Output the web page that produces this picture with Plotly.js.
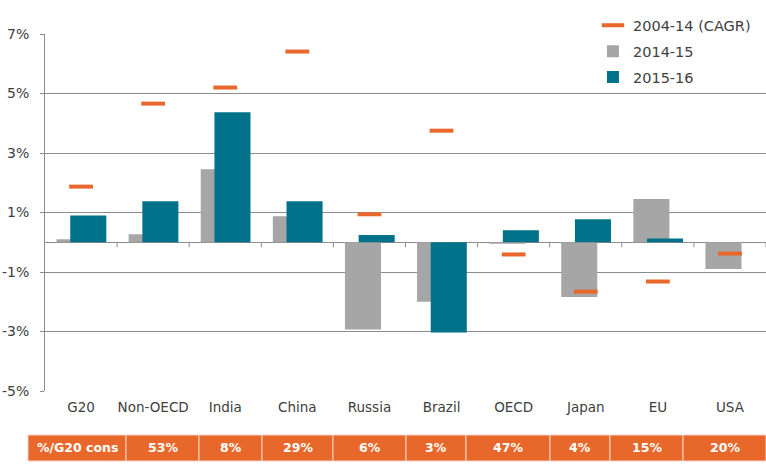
<!DOCTYPE html>
<html>
<head>
<meta charset="utf-8">
<script src="https://cdn.plot.ly/plotly-3.0.1.min.js"></script>
<style>html,body{margin:0;padding:0;background:#fff}#chart{width:766px;height:471px}</style>
</head>
<body>
<div id="chart"></div>
<script>
const categories = ['G20','Non-OECD','India','China','Russia','Brazil','OECD','Japan','EU','USA'];
const cagr0414 = [1.87, 4.66, 5.2, 6.41, 0.94, 3.75, -0.41, -1.66, -1.32, -0.38];
const growth1415 = [0.1, 0.27, 2.45, 0.87, -2.93, -2.0, -0.05, -1.84, 1.45, -0.9];
const growth1516 = [0.9, 1.38, 4.37, 1.38, 0.24, -3.03, 0.4, 0.77, 0.13, 0];
const yTickVals = [-5, -3, -1, 1, 3, 5, 7];
const yTickText = ['-5%', '-3%', '-1%', '1%', '3%', '5%', '7%'];
const shareLabels = ['%/G20 cons','53%','8%','29%','6%','3%','47%','4%','15%','20%'];

// layout helpers (pixel geometry of the table row under the chart)
const W = 766, H = 471, ML = 45, MR = 0, MT = 34, MB = 80;
const PW = W - ML - MR, PH = H - MT - MB;
const cellEdgesPx = [28,126,199,262,333,406,466,550,610,683,766];
const rowTopPx = 435, rowBotPx = 461;
const px2x = p => (p - ML) / PW;
const px2y = p => (H - MB - p) / PH;

const ORANGE = '#E8682B', GRAY = '#A6A6A6', TEAL = '#00728A', TXT = '#404040', GRID = '#8C8C8C';

const traces = [
  {type:'scatter', mode:'markers', name:'2004-14 (CAGR)', x:categories, y:cagr0414,
   legendgroup:'a',
   marker:{symbol:'line-ew', size:17, color:ORANGE, line:{color:ORANGE, width:4}}, hoverinfo:'skip'},
  {type:'bar', name:'2014-15', x:categories, y:growth1415, legendgroup:'b',
   marker:{color:GRAY}, width:0.5, offset:-0.34},
  {type:'bar', name:'2015-16', x:categories, y:growth1516, legendgroup:'c',
   marker:{color:TEAL}, width:0.5, offset:-0.15}
];

const shapes = [];
const annotations = [];
// tick marks on the zero line at category boundaries
for (let i = 0; i < categories.length; i++) {
  shapes.push({type:'line', xref:'x', yref:'y', x0:i+0.5, x1:i+0.5, y0:0, y1:-0.17,
    line:{color:GRID, width:1}});
}
// table row
for (let i = 0; i < shareLabels.length; i++) {
  const x0 = px2x(cellEdgesPx[i]), x1 = px2x(cellEdgesPx[i+1]);
  shapes.push({type:'rect', xref:'paper', yref:'paper', x0:x0, x1:x1,
    y0:px2y(rowBotPx), y1:px2y(rowTopPx), fillcolor:ORANGE, line:{color:'#F6D3C0', width:1}, layer:'above'});
  annotations.push({xref:'paper', yref:'paper', x:(x0+x1)/2, y:px2y((rowTopPx+rowBotPx)/2),
    text:shareLabels[i], showarrow:false, xanchor:'center', yanchor:'middle',
    font:{family:'DejaVu Sans', size:12.5, color:'#ffffff', weight:'bold'}});
}

const layout = {
  width:W, height:H,
  margin:{l:ML, r:MR, t:MT, b:MB, pad:0},
  paper_bgcolor:'#ffffff', plot_bgcolor:'#ffffff',
  font:{family:'DejaVu Sans', color:TXT, size:14},
  barmode:'overlay',
  showlegend:true,
  legend:{x:0.76, y:1.069, xanchor:'left', yanchor:'top', bgcolor:'#ffffff',
    font:{family:'DejaVu Sans', size:14.5, color:TXT}, traceorder:'grouped', tracegroupgap:4},
  xaxis:{type:'category', range:[-0.5, categories.length-0.5], showgrid:false, zeroline:false,
    showline:false, ticks:'', tickfont:{size:13.5, color:TXT}, ticklabelstandoff:6, fixedrange:true},
  yaxis:{range:[-5,7], tickvals:yTickVals, ticktext:yTickText, showgrid:true, gridcolor:GRID, gridwidth:1,
    zeroline:true, zerolinecolor:GRID, zerolinewidth:1, showline:true, linecolor:GRID, linewidth:1,
    ticks:'outside', ticklen:4, tickcolor:GRID, tickfont:{size:14, color:TXT}, ticklabelstandoff:8, fixedrange:true},
  shapes:shapes,
  annotations:annotations
};

Plotly.newPlot('chart', traces, layout, {displayModeBar:false, staticPlot:true});
</script>
</body>
</html>
